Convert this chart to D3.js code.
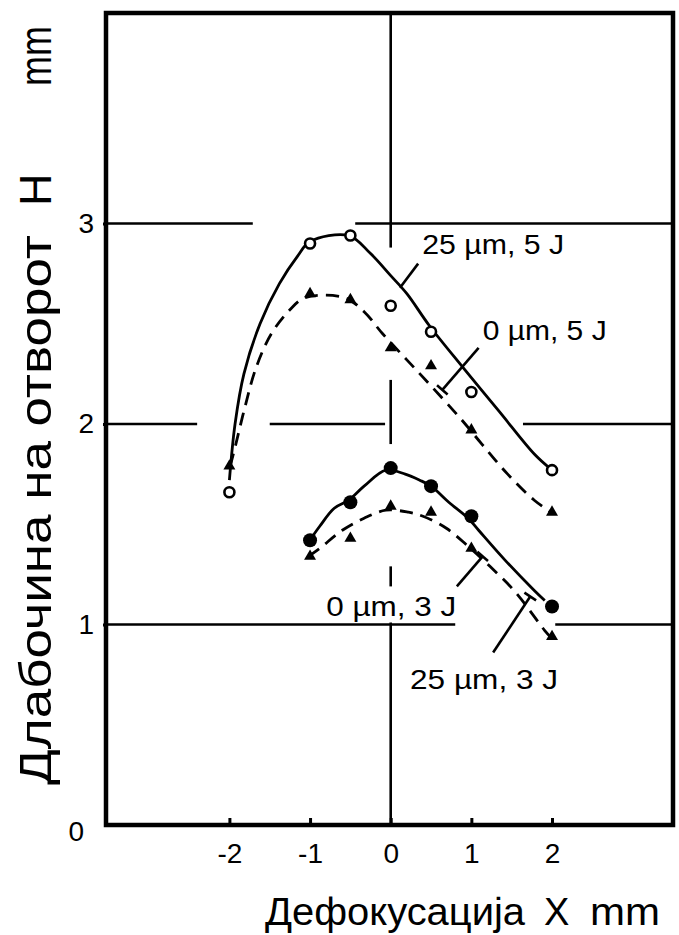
<!DOCTYPE html>
<html>
<head>
<meta charset="utf-8">
<script src="https://cdn.jsdelivr.net/npm/d3@7"></script>
<style>
  body { margin: 0; background: #fff; }
  svg { display: block; }
  text { font-family: "Liberation Sans", Arial, Helvetica, sans-serif; fill: #000; }
</style>
</head>
<body>
<svg id="chart" width="679" height="935"></svg>
<script>
// Axis ticks
const xTickValues = [-2, -1, 0, 1, 2];
const yTickValues = [0, 1, 2, 3];

// Defocus positions X (mm) at which depth was measured
const defocus5J = [-2, -1, -0.5, 0, 0.5, 1, 2];
const defocus3J = [-1, -0.5, 0, 0.5, 1, 2];

// Measured hole depth H (mm)
const depth25um5J = [1.66, 2.90, 2.94, 2.59, 2.46, 2.16, 1.77];
const depth0um5J  = [1.79, 2.65, 2.62, 2.38, 2.29, 1.97, 1.56];
const depth25um3J = [1.42, 1.61, 1.78, 1.69, 1.54, 1.09];
const depth0um3J  = [1.34, 1.43, 1.59, 1.56, 1.38, 0.94];

// Hand-drawn trend curves, [X, H] pairs
const trend25um5J = [[-2.0,1.72],[-1.93,2.0],[-1.82,2.25],[-1.62,2.5],[-1.38,2.7],[-1.15,2.84],[-1.0,2.91],
  [-0.52,2.94],[-0.25,2.85],[0.0,2.74],[0.2,2.65],[0.48,2.49],[0.9,2.28],[1.35,2.06],[1.78,1.85],[1.97,1.78]];
const trend0um5J = [[-1.99,1.79],[-1.92,1.9],[-1.81,2.08],[-1.67,2.28],[-1.48,2.45],[-1.25,2.57],[-1.06,2.63],
  [-0.57,2.63],[-0.33,2.56],[-0.1,2.45],[0.2,2.32],[0.5,2.19],[0.86,2.03],[1.13,1.9],[1.45,1.75],[1.78,1.62],[1.99,1.56]];
const trend25um3J = [[-1.02,1.41],[-0.88,1.49],[-0.7,1.58],[-0.52,1.62],[-0.33,1.69],[-0.06,1.77],[0.18,1.75],
  [0.36,1.72],[0.5,1.69],[0.72,1.61],[0.96,1.53],[1.09,1.47],[1.42,1.32],[1.78,1.17],[1.91,1.12]];
const trend0um3J = [[-1.02,1.34],[-0.88,1.38],[-0.6,1.47],[-0.33,1.53],[-0.06,1.57],[0.22,1.56],[0.4,1.54],
  [0.69,1.48],[0.96,1.39],[1.23,1.29],[1.55,1.16],[1.91,0.97],[2.0,0.93]];

// Series captions
const seriesNames = ["25 \u00b5m, 5 J", "0 \u00b5m, 5 J", "0 \u00b5m, 3 J", "25 \u00b5m, 3 J"];

const svg = d3.select("#chart");
svg.append("rect").attr("width", 679).attr("height", 935).attr("fill", "#fff");

const x = d3.scaleLinear().domain([-3.53, 3.5]).range([106, 673]);
const y = d3.scaleLinear().domain([0, 4.05]).range([825, 13]);

// Broken grid lines (gaps leave room for curves and captions)
const gridH = [
  {v: 3, segs: [[-3.53, -1.71], [-0.44, 3.5]]},
  {v: 2, segs: [[-3.53, -2.4], [-1.5, -0.07], [1.64, 3.5]]},
  {v: 1, segs: [[-3.53, 0.8], [2.04, 3.5]]}
];
const gridV = [{v: 0, segs: [[4.05, 2.88], [2.22, 1.9], [1.29, 1.19], [1.01, 0]]}];

const grid = svg.append("g").attr("stroke", "#000").attr("stroke-width", 2.6).attr("fill", "none");
gridH.forEach(g => g.segs.forEach(s => grid.append("line")
  .attr("x1", x(s[0])).attr("x2", x(s[1])).attr("y1", y(g.v)).attr("y2", y(g.v))));
gridV.forEach(g => g.segs.forEach(s => grid.append("line")
  .attr("x1", x(g.v)).attr("x2", x(g.v)).attr("y1", y(s[0])).attr("y2", y(s[1]))));

// Axes
const xAxis = svg.append("g").attr("transform", `translate(0,${y(0)})`)
  .call(d3.axisBottom(x).tickValues(xTickValues).tickSize(-7).tickPadding(18).tickFormat(d => String(d)));
const yAxis = svg.append("g").attr("transform", `translate(${x(-3.53)},0)`)
  .call(d3.axisLeft(y).tickValues(yTickValues).tickSize(3).tickPadding(9).tickFormat(d => String(d)));
[xAxis, yAxis].forEach(a => {
  a.select(".domain").remove();
  a.selectAll(".tick line").attr("stroke", "#000").attr("stroke-width", 3);
  a.selectAll(".tick text").attr("font-size", 28).attr("fill", "#000")
    .style("font-family", '"Liberation Sans", Arial, sans-serif');
});
yAxis.selectAll(".tick").filter(d => d === 0).select("line").remove();
yAxis.selectAll(".tick").filter(d => d === 0).select("text").attr("dx", -10).attr("dy", "0.55em");

// Frame
svg.append("rect")
  .attr("x", x(-3.53)).attr("y", y(4.05))
  .attr("width", x(3.5) - x(-3.53)).attr("height", y(0) - y(4.05))
  .attr("fill", "none").attr("stroke", "#000").attr("stroke-width", 4.5);

// Trend curves
const line = d3.line().x(d => x(d[0])).y(d => y(d[1])).curve(d3.curveCatmullRom.alpha(0.5));
const curves = svg.append("g").attr("fill", "none").attr("stroke", "#000").attr("stroke-width", 2.8)
  .attr("stroke-linecap", "butt");
curves.append("path").attr("d", line(trend25um5J));
curves.append("path").attr("d", line(trend0um5J)).attr("stroke-dasharray", "13 8");
curves.append("path").attr("d", line(trend25um3J));
curves.append("path").attr("d", line(trend0um3J)).attr("stroke-dasharray", "13 8");

// Data markers
const markers = svg.append("g");
const tri = d3.symbol().type(d3.symbolTriangle).size(62);
markers.selectAll(".o5").data(defocus5J.map((d, i) => [d, depth25um5J[i]])).join("circle")
  .attr("cx", d => x(d[0])).attr("cy", d => y(d[1])).attr("r", 5)
  .attr("fill", "#fff").attr("stroke", "#000").attr("stroke-width", 2.6);
markers.selectAll(".t5").data(defocus5J.map((d, i) => [d, depth0um5J[i]])).join("path")
  .attr("d", tri).attr("transform", d => `translate(${x(d[0])},${y(d[1])})`).attr("fill", "#000");
markers.selectAll(".f3").data(defocus3J.map((d, i) => [d, depth25um3J[i]])).join("circle")
  .attr("cx", d => x(d[0])).attr("cy", d => y(d[1])).attr("r", 7).attr("fill", "#000");
markers.selectAll(".t3").data(defocus3J.map((d, i) => [d, depth0um3J[i]])).join("path")
  .attr("d", tri).attr("transform", d => `translate(${x(d[0])},${y(d[1])})`).attr("fill", "#000");

// Captions with leader lines
const captions = [
  {text: seriesNames[0], at: [0.39, 2.85], len: 142, lead: [[0.115, 2.68], [0.34, 2.80]], bar: false},
  {text: seriesNames[1], at: [1.14, 2.42], len: 124, lead: [[1.09, 2.38], [0.64, 2.17]], bar: true},
  {text: seriesNames[2], at: [-0.80, 1.04], len: 130, lead: [[0.82, 1.19], [1.14, 1.34]], bar: true},
  {text: seriesNames[3], at: [0.24, 0.68], len: 148, lead: [[1.27, 0.86], [1.73, 1.14]], bar: true}
];
const cap = svg.append("g");
captions.forEach(c => {
  cap.append("text").attr("x", x(c.at[0])).attr("y", y(c.at[1]))
    .attr("font-size", 28).attr("textLength", c.len).attr("lengthAdjust", "spacingAndGlyphs")
    .text(c.text);
  const [p0, p1] = c.lead.map(p => [x(p[0]), y(p[1])]);
  cap.append("line").attr("x1", p0[0]).attr("y1", p0[1]).attr("x2", p1[0]).attr("y2", p1[1])
    .attr("stroke", "#000").attr("stroke-width", 2.6);
  if (c.bar) {
    const dx = p1[0] - p0[0], dy = p1[1] - p0[1], L = Math.hypot(dx, dy);
    const nx = -dy / L * 7, ny = dx / L * 7;
    cap.append("line").attr("x1", p1[0] - nx).attr("y1", p1[1] - ny)
      .attr("x2", p1[0] + nx).attr("y2", p1[1] + ny)
      .attr("stroke", "#000").attr("stroke-width", 2.6);
  }
});

// Axis titles
const xTitle = svg.append("g").attr("font-size", 38);
xTitle.append("text").attr("x", 265).attr("y", 925)
  .attr("textLength", 260).attr("lengthAdjust", "spacingAndGlyphs").text("Дефокусација");
xTitle.append("text").attr("x", 544).attr("y", 925).text("X");
xTitle.append("text").attr("x", 590).attr("y", 925)
  .attr("textLength", 70).attr("lengthAdjust", "spacingAndGlyphs").text("mm");

const yTitle = svg.append("g").attr("font-size", 45);
yTitle.append("text").attr("transform", "translate(51,785) rotate(-90)")
  .attr("textLength", 550).attr("lengthAdjust", "spacingAndGlyphs").text("Длабочина на отворот");
yTitle.append("text").attr("transform", "translate(51,206) rotate(-90)").text("H");
yTitle.append("text").attr("transform", "translate(51,86) rotate(-90)")
  .attr("textLength", 60).attr("lengthAdjust", "spacingAndGlyphs").text("mm");
</script>
</body>
</html>
